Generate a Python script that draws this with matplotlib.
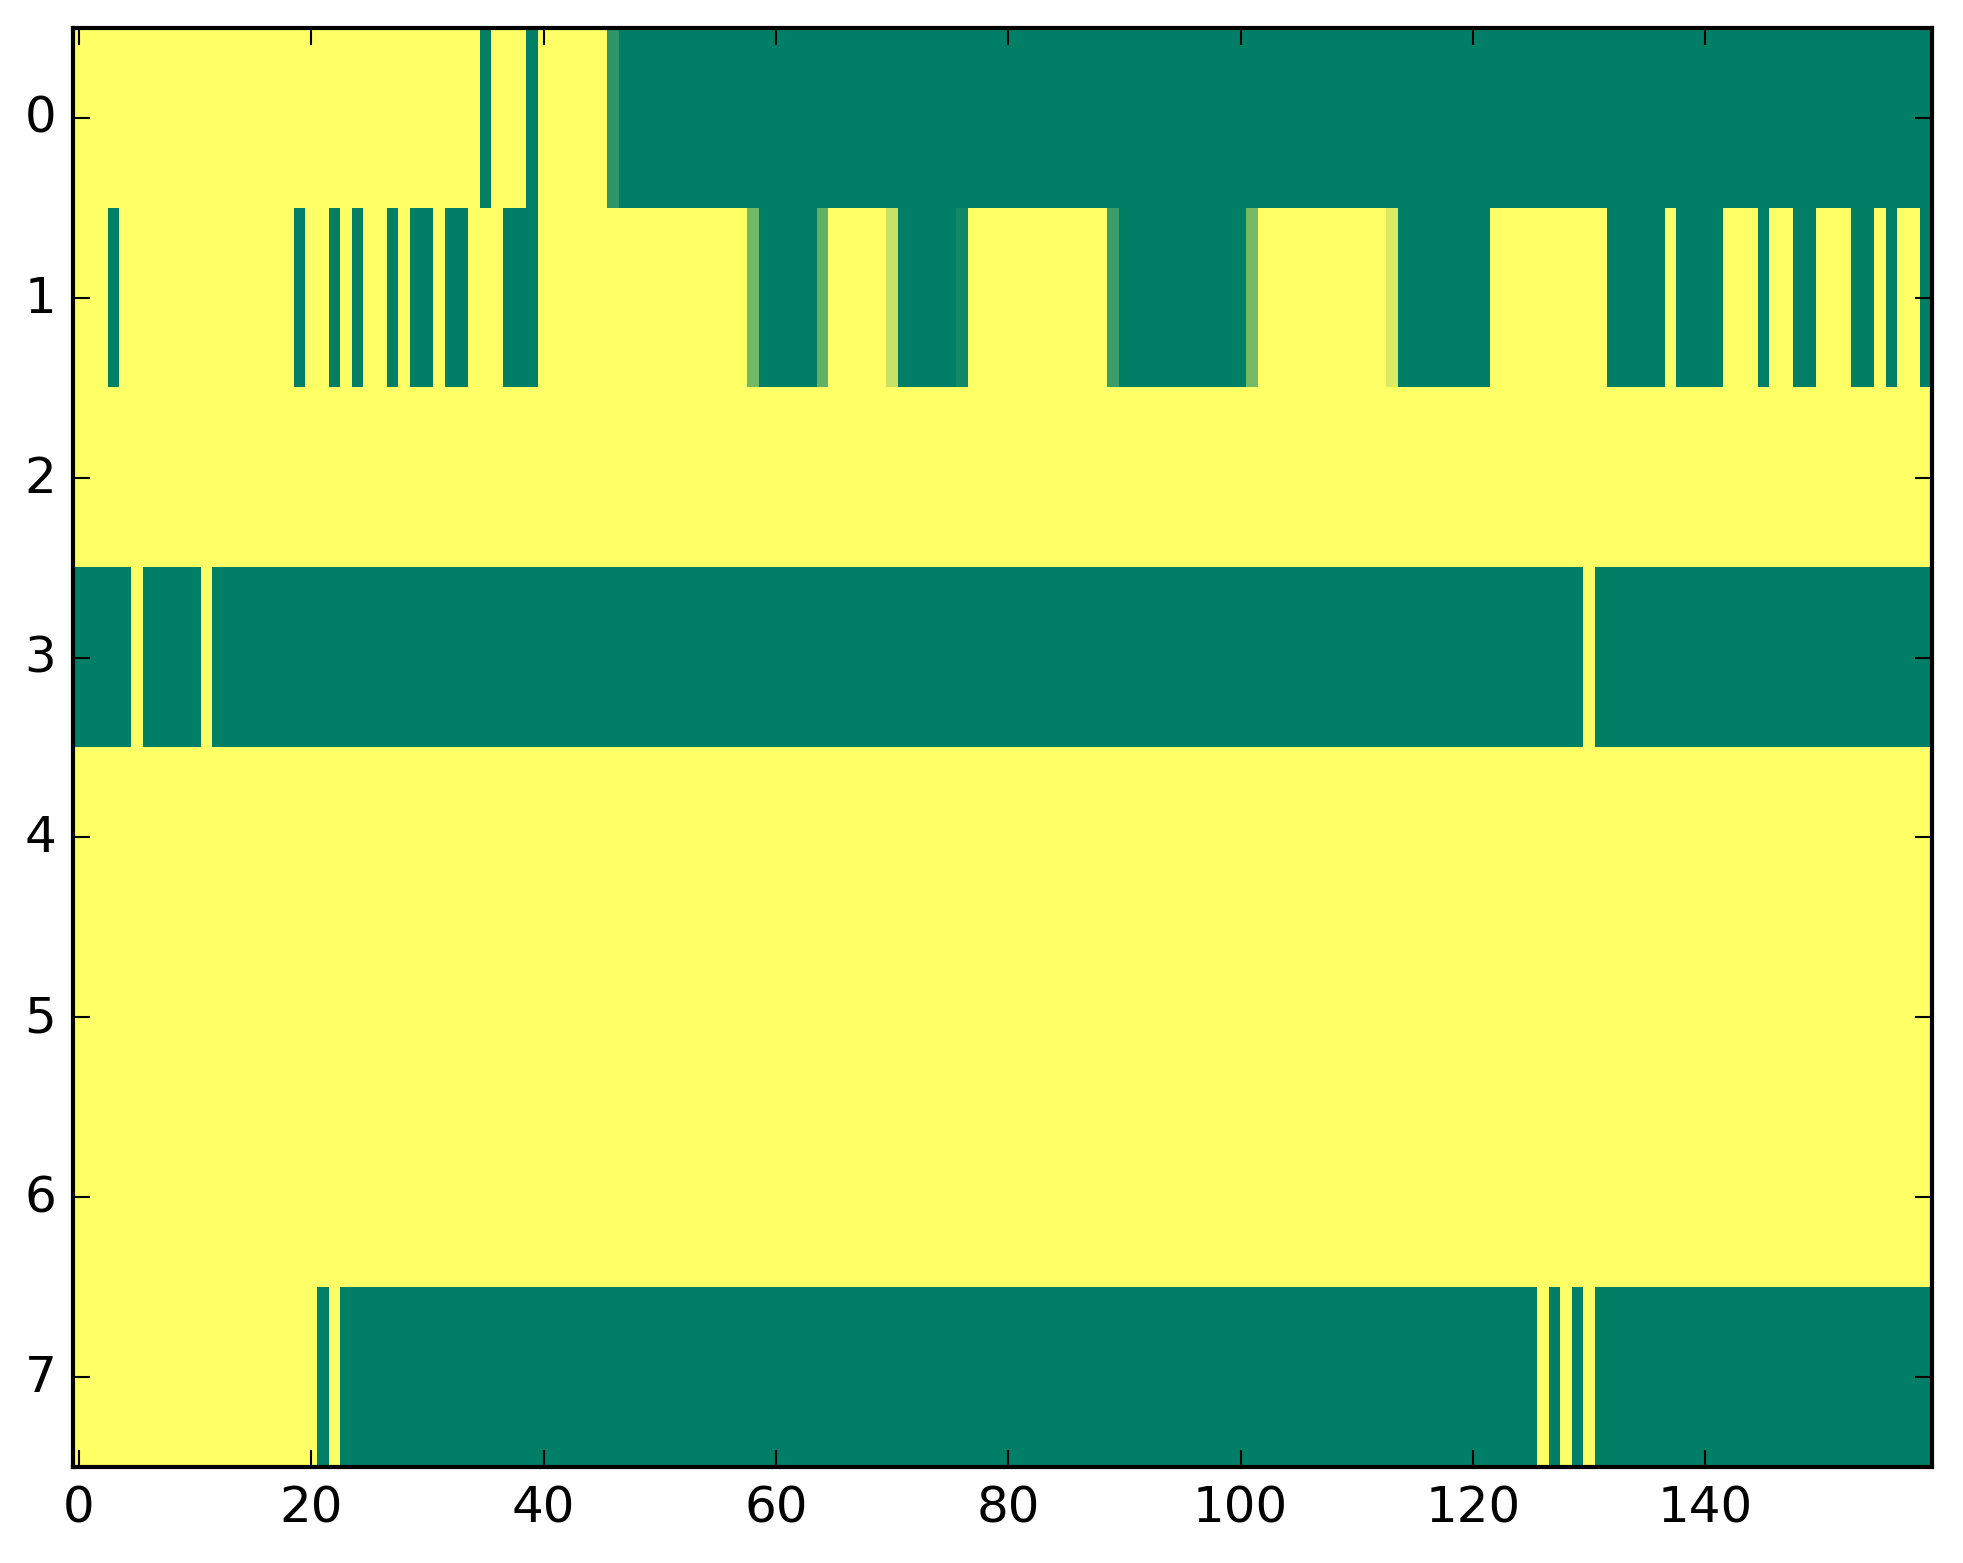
import numpy as np
import matplotlib.pyplot as plt

plt.style.use('classic')

n_cols = 160
n_rows = 8

# columns that are green (value 0) in each row; everything else is yellow (1)
row0_green = [35, 39] + list(range(47, 160))
row0_partial = {46: 0.18}

row1_green = [3, 19, 22, 24, 27, 29, 30, 32, 33, 37, 38, 39] \
    + list(range(59, 64)) + list(range(71, 76)) + list(range(90, 101)) \
    + list(range(114, 122)) + list(range(132, 137)) + list(range(138, 142)) \
    + [145, 148, 149, 153, 154, 156, 159]
row1_partial = {58: 0.45, 64: 0.38, 70: 0.77, 76: 0.07,
                89: 0.24, 101: 0.45, 113: 0.85}

# rows 3 and 7 are mostly green; these are the yellow columns
row3_yellow = [5, 11, 130]
row7_yellow = list(range(0, 21)) + [22, 126, 128, 130]

data = np.ones((n_rows, n_cols))
data[0, row0_green] = 0
for c, v in row0_partial.items():
    data[0, c] = v
data[1, row1_green] = 0
for c, v in row1_partial.items():
    data[1, c] = v
data[3, :] = 0
data[3, row3_yellow] = 1
data[7, :] = 0
data[7, row7_yellow] = 1

fig = plt.figure(figsize=(1963/300, 1564/300), dpi=300, facecolor='white')
ax = fig.add_axes([73/1963, 1 - 1468/1564, (1932 - 73)/1963, (1468 - 29)/1564])
ax.imshow(data, cmap='summer', vmin=0, vmax=1, aspect='auto', interpolation='nearest')
ax.set_xlim(-0.5, 159.5)
ax.set_ylim(7.5, -0.5)
ax.set_xticks(range(0, 160, 20))
ax.set_yticks(range(0, 8))

fig.savefig('out.png', dpi=300, facecolor='white')
